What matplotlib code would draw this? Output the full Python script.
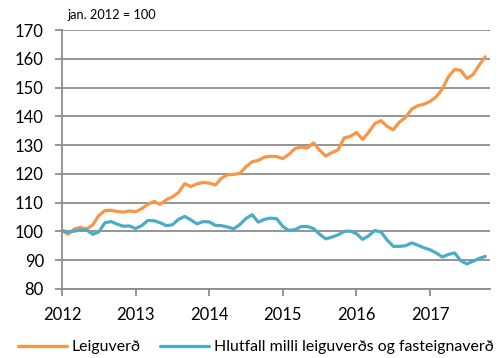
import matplotlib
matplotlib.use("Agg")
import matplotlib.pyplot as plt
import numpy as np

plt.rcParams['font.family'] = ['Lato', 'DejaVu Sans']

# Monthly index values, January 2012 = 100
leiguverd = [
    100.2, 99.0, 100.8, 101.4, 100.8, 102.2, 105.5, 107.2, 107.3, 106.9,
    106.7, 107.1, 106.8, 107.9, 109.4, 110.4, 109.4, 111.0, 112.0, 113.5,
    116.6, 115.6, 116.5, 117.0, 116.8, 116.1, 118.5, 119.7, 119.8, 120.2,
    122.5, 124.2, 124.7, 125.8, 126.1, 126.0, 125.3, 126.8, 128.8, 129.3,
    129.0, 130.8, 128.2, 126.2, 127.4, 128.3, 132.5, 133.0, 134.4, 132.0,
    134.5, 137.5, 138.5, 136.5, 135.3, 138.0, 139.6, 142.5, 143.7, 144.2,
    145.2, 146.8, 149.5, 153.8, 156.3, 156.0, 153.2, 154.5, 157.8, 160.7,
]
hlutfall = [
    100.3, 99.8, 100.1, 100.5, 100.5, 99.0, 99.8, 103.0, 103.4, 102.5,
    101.8, 101.9, 101.0, 102.0, 103.8, 103.7, 103.0, 102.0, 102.3, 104.2,
    105.2, 104.0, 102.6, 103.4, 103.3, 102.1, 102.0, 101.5, 100.9, 102.4,
    104.5, 105.8, 103.2, 104.2, 104.6, 104.4, 101.7, 100.3, 100.6, 101.7,
    101.7, 101.0, 99.0, 97.4, 98.0, 98.8, 100.0, 100.1, 99.2, 97.2,
    98.5, 100.3, 99.8, 97.0, 94.8, 94.8, 95.0, 96.0, 95.2, 94.3,
    93.6, 92.5, 91.1, 92.0, 92.5, 89.8, 88.7, 89.6, 90.6, 91.3,
]
years = ["2012", "2013", "2014", "2015", "2016", "2017"]
series_labels = ["Leiguverð", "Hlutfall milli leiguverðs og fasteignaverð"]

months = np.arange(len(leiguverd))

fig = plt.figure(figsize=(5.02, 3.58), dpi=100)
ax = fig.add_axes([0.1235, 0.193, 0.853, 0.723])

grid_c = "#8c8c8c"
ax.plot(months, leiguverd, color="#F79646", lw=2.3, solid_capstyle="round",
        solid_joinstyle="round", label=series_labels[0], zorder=3)
ax.plot(months, hlutfall, color="#4BACC6", lw=2.3, solid_capstyle="round",
        solid_joinstyle="round", label=series_labels[1], zorder=3)

ax.set_ylim(80, 170)
ax.set_yticks(np.arange(80, 171, 10))
ax.set_xlim(0, 69.8)
ax.set_xticks(np.arange(0, 61, 12))
ax.set_xticklabels(years)

ax.grid(axis="y", color=grid_c, lw=1.3, zorder=0)
for s in ["top", "right"]:
    ax.spines[s].set_visible(False)
for s in ["left", "bottom"]:
    ax.spines[s].set_color(grid_c)
    ax.spines[s].set_linewidth(1.3)
ax.tick_params(axis="both", colors=grid_c, length=5, width=1.3,
               labelcolor="black", labelsize=12)
ax.tick_params(axis="x", pad=8)
ax.tick_params(axis="y", pad=8)

fig.text(0.135, 0.958, "jan. 2012 = 100", fontsize=9.2, va="center", ha="left")

fig.legend(loc="center left", bbox_to_anchor=(0.036, 0.03), ncol=2, frameon=False,
           fontsize=11.4, handlelength=3.1, handletextpad=0.3,
           columnspacing=1.2, borderaxespad=0, borderpad=0)

fig.savefig("out.png", dpi=100)
